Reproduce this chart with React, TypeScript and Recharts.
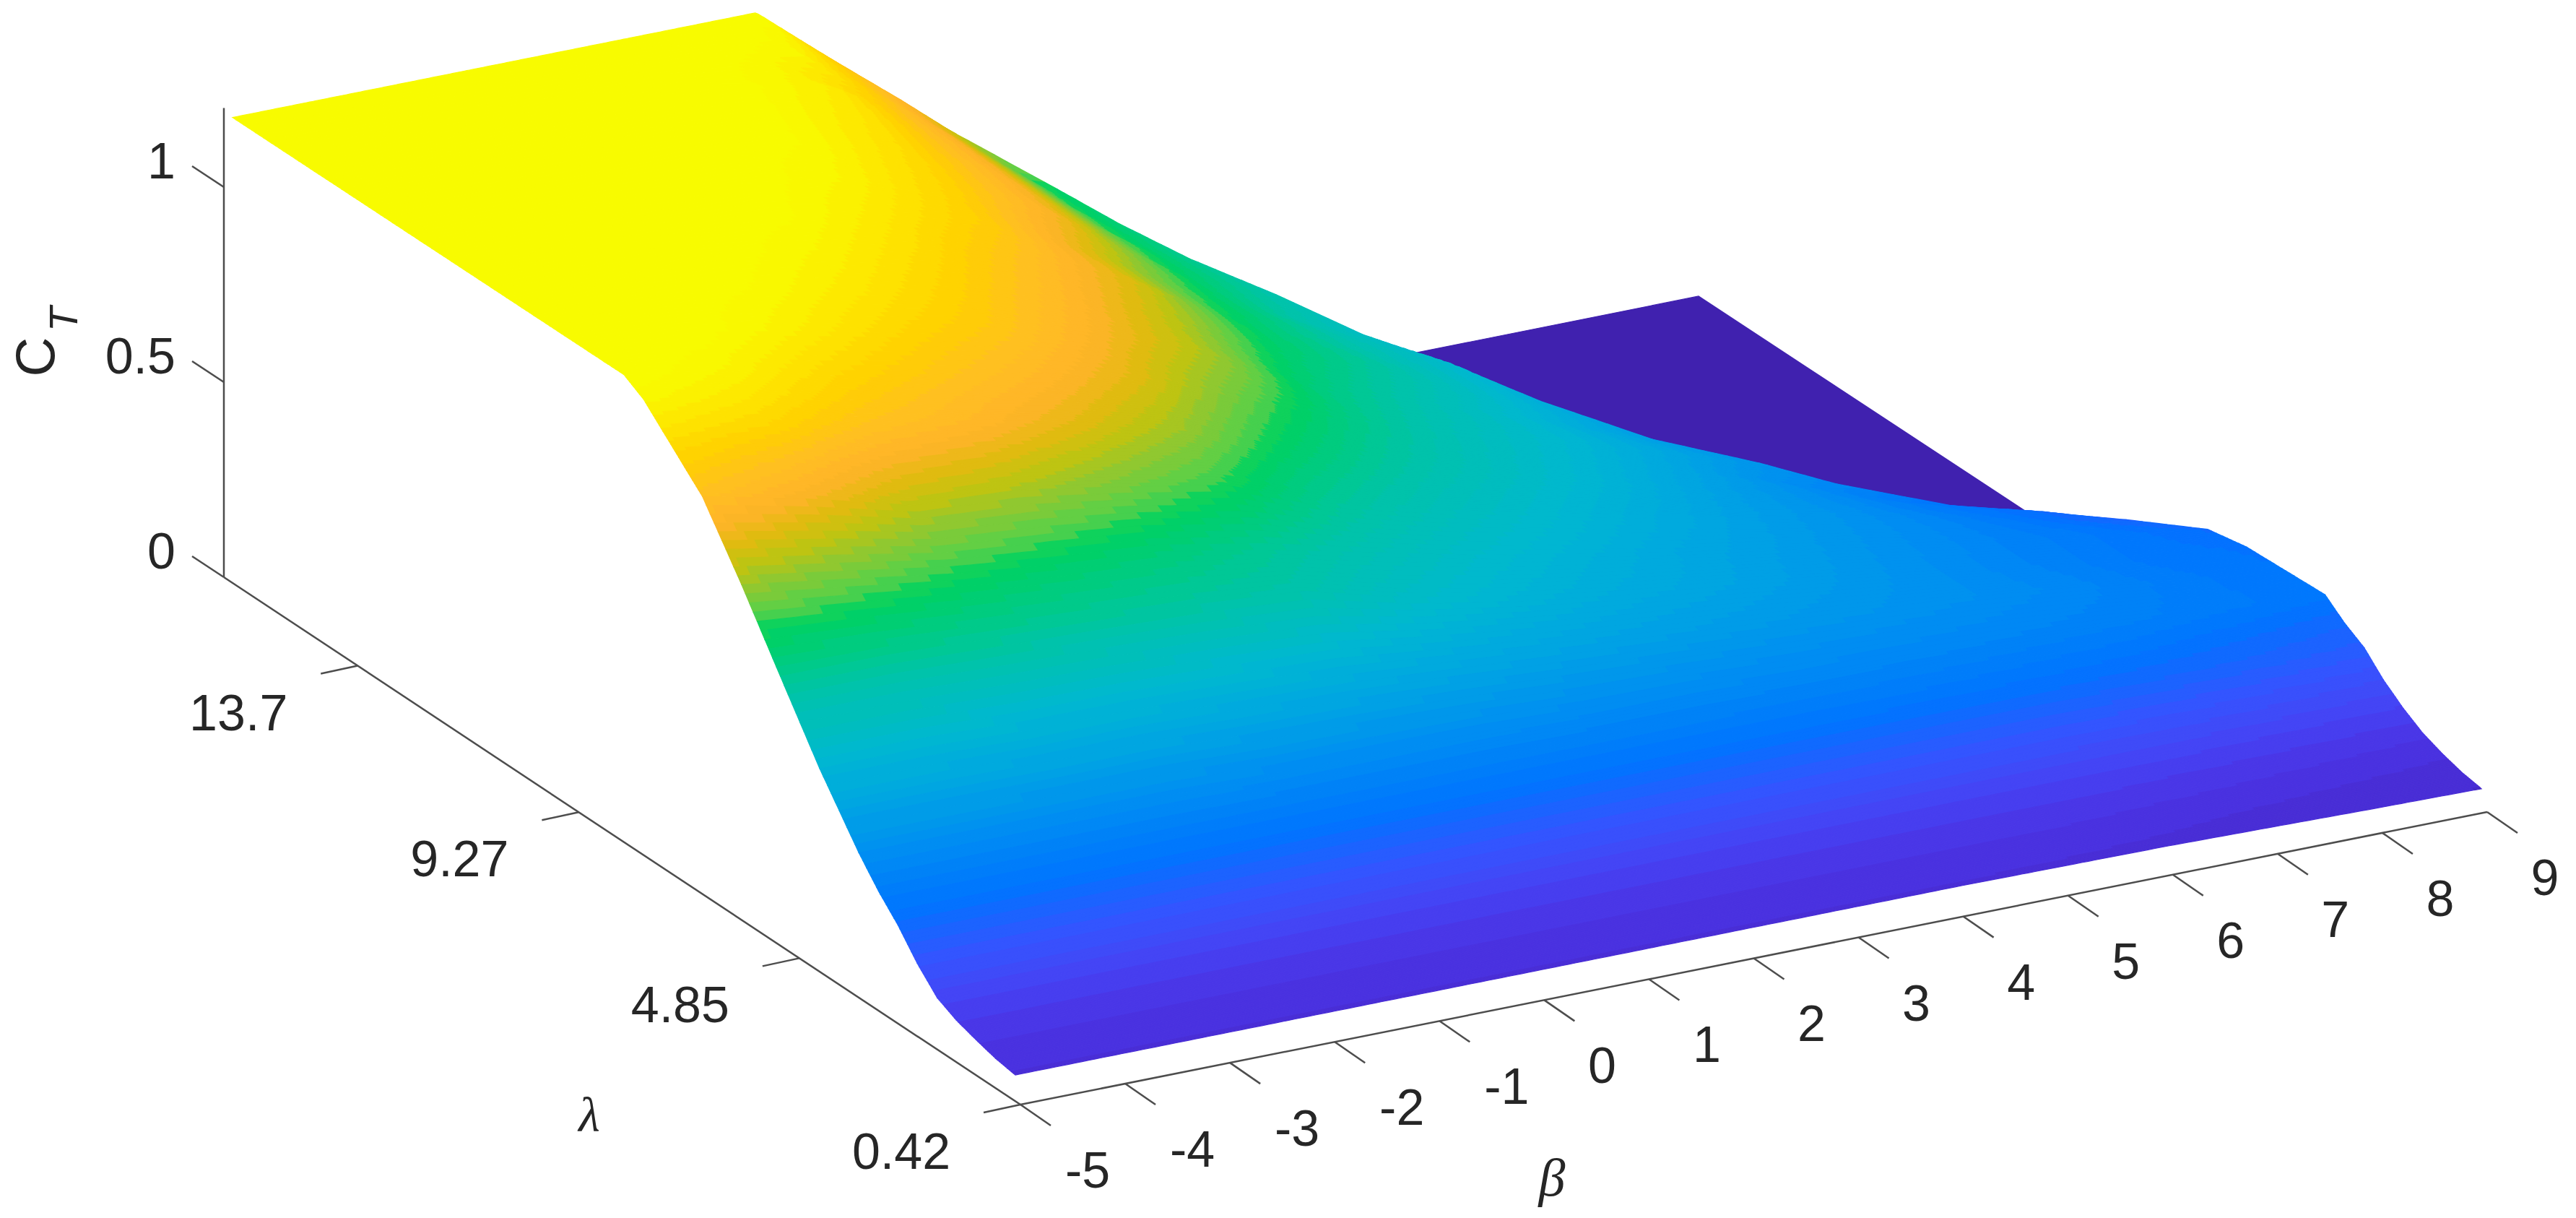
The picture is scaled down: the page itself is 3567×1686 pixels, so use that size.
import { ReferenceLine, Scatter, ScatterChart, XAxis, YAxis } from "recharts";

const WIDTH = 3567;
const HEIGHT = 1686;

const betaTicks = [-5, -4, -3, -2, -1, 0, 1, 2, 3, 4, 5, 6, 7, 8, 9];
const lambdaTicks = [0.42, 4.85, 9.27, 13.7];
const thrustTicks = [0, 0.5, 1];

// lambda of each table row, back of the surface to the front
const lambdaRows = [
  16.38, 15.58, 14.78, 13.99, 13.19, 12.39, 11.59, 10.79, 9.99, 9.2, 8.4, 8.0,
  7.6, 7.2, 6.8, 6.0, 5.21, 4.41, 3.61, 3.21, 2.81, 2.42, 2.01, 1.62, 1.22,
  0.82, 0.42,
];

// where each row stops: behind this beta the surface falls away to the flat part
const crestBeta = [
  1.0, 1.3, 2.13, 2.35, 2.65, 3.1, 3.55, 4.05, 4.5, 5.2, 5.85, 6.4, 7.3, 8.1,
  8.6, 9, 9, 9, 9, 9, 9, 9, 9, 9, 9, 9, 9,
];

// C_T per row at beta = -5, -4, ... and the last number at crestBeta
const thrustRows = [
  [1.21, 1.21, 1.21, 1.21, 1.21, 1.21, 0.99],
  [1.21, 1.21, 1.21, 1.21, 1.21, 1.18, 1.0, 0.93],
  [1.21, 1.21, 1.21, 1.21, 1.21, 1.15, 0.99, 0.785, 0.775],
  [1.21, 1.21, 1.21, 1.21, 1.2, 1.13, 0.985, 0.785, 0.74],
  [1.21, 1.21, 1.21, 1.21, 1.19, 1.11, 0.98, 0.785, 0.7],
  [1.21, 1.21, 1.21, 1.21, 1.17, 1.09, 0.97, 0.785, 0.66, 0.65],
  [1.21, 1.21, 1.21, 1.2, 1.14, 1.07, 0.93, 0.78, 0.65, 0.59],
  [1.21, 1.21, 1.21, 1.17, 1.11, 1.03, 0.93, 0.77, 0.66, 0.56, 0.55],
  [1.21, 1.21, 1.19, 1.14, 1.08, 1.0, 0.9, 0.76, 0.67, 0.56, 0.5],
  [1.21, 1.21, 1.16, 1.1, 1.05, 0.97, 0.88, 0.73, 0.64, 0.55, 0.45, 0.43],
  [1.21, 1.17, 1.1, 1.05, 1.0, 0.93, 0.82, 0.71, 0.62, 0.55, 0.47, 0.4],
  [1.18, 1.14, 1.07, 1.02, 0.97, 0.9, 0.79, 0.69, 0.61, 0.54, 0.46, 0.37, 0.35],
  [1.13, 1.1, 1.03, 1.0, 0.94, 0.87, 0.76, 0.67, 0.6, 0.53, 0.45, 0.38, 0.3, 0.28],
  [1.08, 1.03, 0.96, 0.94, 0.89, 0.83, 0.72, 0.645, 0.58, 0.515, 0.445, 0.385, 0.315, 0.26, 0.25],
  [1.03, 0.97, 0.9, 0.885, 0.84, 0.79, 0.69, 0.62, 0.56, 0.5, 0.44, 0.39, 0.33, 0.27, 0.24],
  [0.87, 0.83, 0.79, 0.76, 0.74, 0.69, 0.63, 0.57, 0.52, 0.47, 0.43, 0.385, 0.34, 0.3, 0.26],
  [0.7, 0.7, 0.69, 0.68, 0.67, 0.65, 0.58, 0.53, 0.49, 0.46, 0.42, 0.38, 0.34, 0.3, 0.28],
  [0.53, 0.53, 0.52, 0.52, 0.51, 0.5, 0.48, 0.46, 0.44, 0.42, 0.4, 0.38, 0.35, 0.31, 0.285],
  [0.38, 0.38, 0.38, 0.38, 0.37, 0.37, 0.37, 0.36, 0.36, 0.35, 0.35, 0.34, 0.33, 0.31, 0.29],
  [0.315, 0.315, 0.315, 0.315, 0.315, 0.315, 0.315, 0.315, 0.315, 0.315, 0.31, 0.3, 0.29, 0.27, 0.25],
  [0.26, 0.26, 0.26, 0.26, 0.26, 0.26, 0.26, 0.26, 0.26, 0.26, 0.26, 0.26, 0.25, 0.24, 0.22],
  [0.195, 0.195, 0.195, 0.195, 0.195, 0.195, 0.195, 0.195, 0.195, 0.195, 0.195, 0.195, 0.19, 0.18, 0.17],
  [0.14, 0.14, 0.14, 0.14, 0.14, 0.14, 0.14, 0.14, 0.14, 0.14, 0.14, 0.14, 0.14, 0.135, 0.13],
  [0.115, 0.115, 0.115, 0.115, 0.115, 0.115, 0.115, 0.115, 0.115, 0.115, 0.115, 0.115, 0.11, 0.105, 0.1],
  [0.098, 0.098, 0.098, 0.098, 0.098, 0.098, 0.098, 0.098, 0.098, 0.098, 0.098, 0.095, 0.09, 0.085, 0.08],
  [0.083, 0.083, 0.083, 0.083, 0.083, 0.083, 0.083, 0.083, 0.083, 0.083, 0.083, 0.08, 0.075, 0.07, 0.065],
  [0.074, 0.074, 0.074, 0.074, 0.074, 0.074, 0.074, 0.074, 0.074, 0.074, 0.072, 0.07, 0.065, 0.06, 0.056],
];

// flat C_T = 0 sheet seen behind the crest
const flatBeta = [2.2, 9];
const flatLambda = [16.38, 6.5];

// colormap as it looks in the picture (C_T, colour)
const colorLevels = [0, 0.074, 0.1, 0.14, 0.2, 0.28, 0.38, 0.47, 0.55, 0.66, 0.78, 0.8, 0.82, 0.86, 0.9, 0.94, 0.98, 1.03, 1.08, 1.14, 1.19, 1.21];
const colorValues = [
  "#3f1fa8", "#4a30dc", "#4a35e6", "#4545f5", "#3355ff", "#0074ff", "#0090f0", "#00a8e0",
  "#00b8d0", "#00c4a8", "#00d25f", "#40d050", "#60cf45", "#90c830", "#c0c410",
  "#e4ba10", "#ffb42a", "#ffc020", "#ffd000", "#fde800", "#f8fb00", "#f8fb00",
];

const LAMBDA_MAX = 16.38;
const LAMBDA_SPAN = 15.96;
const AXIS_COLOR = "#4d4d4d";
const TEXT_COLOR = "#262626";
const FONT = "'Liberation Sans', Arial, sans-serif";

const lamFrac = (lambda: number) => (LAMBDA_MAX - lambda) / LAMBDA_SPAN;

// orthographic view of the surface
function project(beta: number, lambda: number, z: number) {
  const b = beta + 5;
  const f = lamFrac(lambda);
  return { x: 322 + 145 * b + 1084 * f, y: 816 - 29 * b + 712 * f - 540 * z };
}

// the axis box sits a little outside the surface
function axisPoint(beta: number, lambda: number, z = 0) {
  const b = beta + 5;
  const f = lamFrac(lambda);
  return { x: 310 + 145.07 * b + 1103 * f, y: 799 - 28.93 * b + 730 * f - 540 * z };
}

function hexToRgb(hex: string) {
  return [1, 3, 5].map((i) => parseInt(hex.slice(i, i + 2), 16));
}

function colorOf(z: number) {
  const step = 1.21 / 64;
  const q = Math.min(1.21, Math.floor(z / step) * step + step / 2);
  let i = 0;
  while (i < colorLevels.length - 2 && q > colorLevels[i + 1]) i++;
  const t = Math.max(0, Math.min(1, (q - colorLevels[i]) / (colorLevels[i + 1] - colorLevels[i])));
  const a = hexToRgb(colorValues[i]);
  const c = hexToRgb(colorValues[i + 1]);
  return `rgb(${a.map((v, k) => Math.round(v + (c[k] - v) * t)).join(",")})`;
}

const ACROSS = 220;
const BETWEEN = 10;

function sampleRow(row: number) {
  const values = thrustRows[row];
  const crest = crestBeta[row];
  const knots = values.map((z, j) => ({ beta: j === values.length - 1 ? crest : j - 5, z }));
  const out: { beta: number; z: number }[] = [];
  for (let k = 0; k <= ACROSS; k++) {
    const beta = -5 + ((crest + 5) * k) / ACROSS;
    let j = 0;
    while (j < knots.length - 2 && beta > knots[j + 1].beta) j++;
    const t = (beta - knots[j].beta) / (knots[j + 1].beta - knots[j].beta);
    out.push({ beta, z: knots[j].z + (knots[j + 1].z - knots[j].z) * t });
  }
  return out;
}

type Pt = { x: number; y: number; z?: number };
type Facet = { x: number; y: number; corners: Pt[]; z: number };

// thin strips across the surface, neighbouring cells of one colour merged
function buildFacets() {
  const rows = lambdaRows.map((_, i) => sampleRow(i));
  const facets: Facet[] = [];
  const at = (i: number, s: number, k: number) => {
    const t = s / BETWEEN;
    const a = rows[i][k];
    const c = rows[i + 1][k];
    const lambda = lambdaRows[i] + (lambdaRows[i + 1] - lambdaRows[i]) * t;
    const z = a.z + (c.z - a.z) * t;
    return { ...project(a.beta + (c.beta - a.beta) * t, lambda, z), z };
  };
  for (let i = 0; i < lambdaRows.length - 1; i++) {
    for (let s = 0; s < BETWEEN; s++) {
      let top: Pt[] = [];
      let bottom: Pt[] = [];
      let color = "";
      let z = 0;
      const flush = () => {
        if (!top.length) return;
        facets.push({ x: top[0].x, y: top[0].y, corners: [...top, ...bottom.reverse()], z });
      };
      for (let k = 0; k < ACROSS; k++) {
        const p0 = at(i, s, k);
        const p1 = at(i, s, k + 1);
        const q1 = at(i, s + 1, k + 1);
        const q0 = at(i, s + 1, k);
        const zMid = (p0.z + p1.z + q1.z + q0.z) / 4;
        const c = colorOf(zMid);
        if (c !== color) {
          flush();
          top = [p0];
          bottom = [q0];
          color = c;
          z = zMid;
        }
        top.push(p1);
        bottom.push(q1);
      }
      flush();
    }
  }
  return facets;
}

const facetData = buildFacets();

const flatCorner = [
  project(flatBeta[0], flatLambda[0], 0),
  project(flatBeta[1], flatLambda[0], 0),
  project(flatBeta[1], flatLambda[1], 0),
  project(flatBeta[0], flatLambda[1], 0),
];
const flatData = [{ x: flatCorner[0].x, y: flatCorner[0].y, corners: flatCorner, z: 0 }];

function FacetShape(props: any) {
  const { cx, cy, payload } = props;
  const dx = cx - payload.x;
  const dy = cy - payload.y;
  const color = colorOf(payload.z);
  const pts = payload.corners
    .map((c: Pt) => `${(c.x + dx).toFixed(1)},${(c.y + dy).toFixed(1)}`)
    .join(" ");
  return <polygon points={pts} fill={color} stroke={color} strokeWidth={1.2} />;
}

function TickShape(props: any) {
  const { cx, cy, payload } = props;
  return (
    <g>
      <line
        x1={cx}
        y1={cy}
        x2={cx + payload.tx}
        y2={cy + payload.ty}
        stroke={AXIS_COLOR}
        strokeWidth={2.5}
      />
      <text
        x={cx + payload.lx}
        y={cy + payload.ly}
        textAnchor={payload.anchor}
        dominantBaseline="central"
        fontFamily={FONT}
        fontSize={70}
        fill={TEXT_COLOR}
      >
        {payload.label}
      </text>
    </g>
  );
}

const betaTickData = betaTicks.map((b) => ({
  ...axisPoint(b, 0.42),
  tx: 42,
  ty: 29,
  lx: b < 0 ? 93 : 80,
  ly: 91,
  anchor: "middle",
  label: String(b),
}));
const lambdaTickData = lambdaTicks.map((l) => ({
  ...axisPoint(-5, l),
  tx: -51,
  ty: 11,
  lx: -165,
  ly: 65,
  anchor: "middle",
  label: String(l),
}));
const thrustTickData = thrustTicks.map((t) => ({
  ...axisPoint(-5, LAMBDA_MAX, t),
  tx: -44,
  ty: -29,
  lx: -67,
  ly: -36,
  anchor: "end",
  label: String(t),
}));

function AxisTitle(props: any) {
  const { cx, cy, payload } = props;
  return (
    <text
      x={cx}
      y={cy}
      textAnchor="middle"
      dominantBaseline="central"
      fontFamily={payload.font}
      fontStyle={payload.style}
      fontSize={payload.size}
      fill={TEXT_COLOR}
      transform={payload.rotate ? `rotate(${payload.rotate} ${cx} ${cy})` : undefined}
    >
      {payload.label}
    </text>
  );
}

const titleData = [
  { x: 48, y: 494, label: "C", size: 76, font: FONT, style: "normal", rotate: -90 },
  { x: 87, y: 442, label: "T", size: 56, font: FONT, style: "italic", rotate: -90 },
  { x: 816, y: 1543, label: "λ", size: 68, font: "'Liberation Serif', serif", style: "italic", rotate: 0 },
  { x: 2149, y: 1630, label: "β", size: 74, font: "'Liberation Serif', serif", style: "italic", rotate: 0 },
];

const axisCorner = axisPoint(-5, 0.42);
const axisBack = axisPoint(-5, LAMBDA_MAX);
const axisRight = axisPoint(9, 0.42);
const axisTop = axisPoint(-5, LAMBDA_MAX, 1.203);

export default function App() {
  return (
    <div style={{ position: "absolute", left: 0, top: 0, width: WIDTH, height: HEIGHT, background: "#fff" }}>
      <ScatterChart width={WIDTH} height={HEIGHT} margin={{ top: 0, right: 0, bottom: 0, left: 0 }}>
        <XAxis type="number" dataKey="x" domain={[0, WIDTH]} hide allowDataOverflow />
        <YAxis type="number" dataKey="y" domain={[0, HEIGHT]} reversed hide allowDataOverflow />
        <ReferenceLine segment={[axisBack, axisTop]} stroke={AXIS_COLOR} strokeWidth={2.5} />
        <ReferenceLine segment={[axisBack, axisCorner]} stroke={AXIS_COLOR} strokeWidth={2.5} />
        <ReferenceLine segment={[axisCorner, axisRight]} stroke={AXIS_COLOR} strokeWidth={2.5} />
        <Scatter data={betaTickData} shape={TickShape} isAnimationActive={false} />
        <Scatter data={lambdaTickData} shape={TickShape} isAnimationActive={false} />
        <Scatter data={thrustTickData} shape={TickShape} isAnimationActive={false} />
        <Scatter data={titleData} shape={AxisTitle} isAnimationActive={false} />
        <Scatter data={flatData} shape={FacetShape} isAnimationActive={false} />
        <Scatter data={facetData} shape={FacetShape} isAnimationActive={false} />
      </ScatterChart>
    </div>
  );
}
